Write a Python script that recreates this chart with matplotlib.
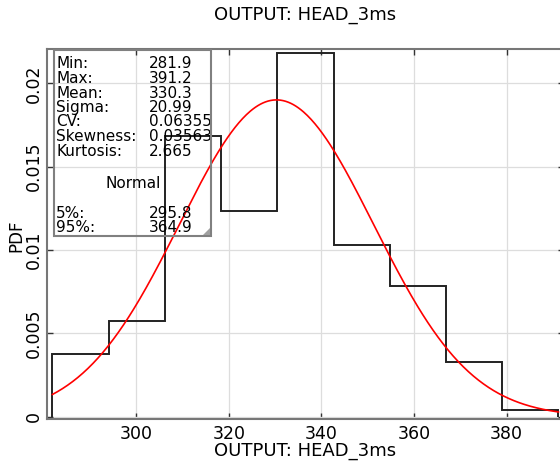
import matplotlib
matplotlib.use("Agg")
import matplotlib.pyplot as plt
import numpy as np
from matplotlib.patches import Rectangle, Polygon

# histogram (pdf) of OUTPUT: HEAD_3ms, 9 equal bins from min to max
X_MIN = 281.9
X_MAX = 391.2
PDF_VALUES = [0.00375, 0.00576, 0.01686, 0.01236, 0.0218, 0.0103, 0.00782, 0.00328, 0.0004]

# fitted normal
MEAN = 330.3
SIGMA = 20.99

STAT_LABELS = ["Min:", "Max:", "Mean:", "Sigma:", "CV:", "Skewness:", "Kurtosis:"]
STAT_VALUES = ["281.9", "391.2", "330.3", "20.99", "0.06355", "0.03563", "2.665"]
PCT_LABELS = ["5%:", "95%:"]
PCT_VALUES = ["295.8", "364.9"]

TITLE = "OUTPUT: HEAD_3ms"

W, H = 560, 461
fig = plt.figure(figsize=(W / 100, H / 100), dpi=100)
# axes runs slightly past the right edge of the figure, as in the reference
ax = fig.add_axes([47.3 / W, 42 / H, (563.5 - 47.3) / W, (419 - 49) / H])

edges = np.linspace(X_MIN, X_MAX, len(PDF_VALUES) + 1)
ax.stairs(PDF_VALUES, edges, color="#222222", linewidth=1.4, baseline=0.0, zorder=3)

xs = np.linspace(X_MIN, X_MAX, 400)
ys = np.exp(-0.5 * ((xs - MEAN) / SIGMA) ** 2) / (SIGMA * np.sqrt(2 * np.pi))
ax.plot(xs, ys, color="red", linewidth=1.2, zorder=4)

ax.set_xlim(280.8, 392.3)
ax.set_ylim(-0.00014, 0.02206)
ax.set_xticks([300, 320, 340, 360, 380])
ax.set_yticks([0, 0.005, 0.01, 0.015, 0.02])
ax.set_yticklabels(["0", "0.005", "0.01", "0.015", "0.02"], rotation=90, va="center")
ax.grid(color="#dddddd", linewidth=0.9, zorder=0)
ax.set_axisbelow(True)
ax.tick_params(direction="in", length=4, width=1.0, color="#333333", labelsize=12.5,
               top=True, right=True)
ax.tick_params(axis="x", pad=4.5)
ax.tick_params(axis="y", pad=3)
for sp in ax.spines.values():
    sp.set_color("#777777")
    sp.set_linewidth(1.5)

fig.text(305 / W, 1 - 15 / H, TITLE, ha="center", va="center", fontsize=13)
fig.text(305 / W, 1 - 456 / H, TITLE, ha="center", va="baseline", fontsize=13)
fig.text(16 / W, 1 - 236 / H, "PDF", ha="center", va="center", fontsize=12, rotation=90)

# statistics box (no fill)
def fx(px):
    return px / W

def fy(py):
    return 1 - py / H

box = Rectangle((fx(54), fy(235.7)), fx(210.7) - fx(54), fy(50) - fy(235.7),
                transform=fig.transFigure, fill=False, edgecolor="#808080", linewidth=1.5, zorder=10)
fig.patches.append(box)
grip = Polygon([[fx(210), fy(228)], [fx(210), fy(235)], [fx(203), fy(235)]], closed=True,
               transform=fig.transFigure, facecolor="#a0a0a0", edgecolor="none", zorder=11)
fig.patches.append(grip)

row_y = [64, 78.5, 93, 107.5, 122, 136.5, 151]
for lab, val, y in zip(STAT_LABELS, STAT_VALUES, row_y):
    fig.text(fx(56), fy(y), lab, ha="left", va="center", fontsize=11)
    fig.text(fx(149), fy(y), val, ha="left", va="center", fontsize=11)
fig.text(fx(133), fy(183), "Normal", ha="center", va="center", fontsize=11)
for lab, val, y in zip(PCT_LABELS, PCT_VALUES, [213, 227.5]):
    fig.text(fx(56), fy(y), lab, ha="left", va="center", fontsize=11)
    fig.text(fx(149), fy(y), val, ha="left", va="center", fontsize=11)

fig.savefig("out.png", dpi=100)
